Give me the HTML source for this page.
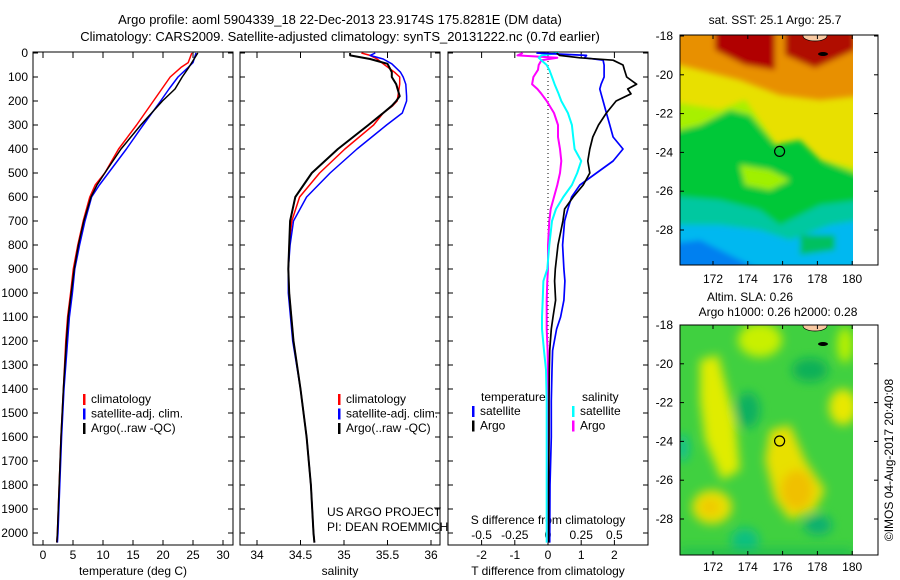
<!DOCTYPE html>
<html><head><meta charset="utf-8"><style>
body{margin:0;background:#fff;}
svg{display:block;font-family:"Liberation Sans",sans-serif;}
</style></head><body>
<svg id="chart" width="900" height="580" viewBox="0 0 900 580">
<defs>
<filter id="bl" x="-30%" y="-30%" width="160%" height="160%"><feGaussianBlur stdDeviation="5"/></filter>
<filter id="bl2" x="-20%" y="-20%" width="140%" height="140%"><feGaussianBlur stdDeviation="3"/></filter>
<clipPath id="c1"><rect x="680" y="35" width="173" height="230"/></clipPath>
<clipPath id="c2"><rect x="680" y="325" width="173" height="230"/></clipPath>
</defs>
<text x="340" y="24" font-size="13" text-anchor="middle">Argo profile: aoml 5904339_18 22-Dec-2013 23.9174S 175.8281E (DM data)</text>
<text x="340" y="41" font-size="13" text-anchor="middle">Climatology: CARS2009. Satellite-adjusted climatology: synTS_20131222.nc (0.7d earlier)</text>

<g>
<g clip-path="url(#c1)">
<rect x="680" y="35" width="173" height="230" fill="#e8e000"/>
<g filter="url(#bl2)">
<polygon points="660,20 870,20 870,95 820,100 780,95 740,80 700,70 660,60" fill="#e89000"/>
<polygon points="715,20 775,20 775,70 745,65 715,50" fill="#b00000"/>
<polygon points="785,20 855,20 855,50 815,68 785,55" fill="#b01000"/>
<polygon points="660,100 720,110 745,100 780,150 860,170 860,280 660,280" fill="#a8f000"/>
<polygon points="660,135 700,125 730,110 750,115 775,145 800,140 820,160 860,175 860,280 660,280" fill="#00c838"/>
<polygon points="740,165 770,170 790,180 770,190 745,185" fill="#a0f000"/>
<polygon points="660,195 720,200 760,210 780,225 820,205 860,200 860,280 660,280" fill="#00c8a0"/>
<polygon points="660,225 720,225 760,230 790,240 830,225 860,220 860,280 660,280" fill="#00b8f0"/>
<polygon points="660,245 700,240 730,255 760,270 660,280" fill="#0080f0"/>
<polygon points="800,235 835,235 835,250 800,255" fill="#00c060"/>
</g>
<ellipse cx="815" cy="36" rx="12" ry="5" fill="#f8c8a0" stroke="#000" stroke-width="0.7"/>
<ellipse cx="823" cy="54" rx="5" ry="2" fill="#000"/>
</g>
<rect x="680" y="35" width="198" height="230" fill="none" stroke="#000" stroke-width="1"/>
<circle cx="779.6" cy="151.4" r="5" fill="none" stroke="#000" stroke-width="1.2"/>
<text x="775" y="24" font-size="12" text-anchor="middle">sat. SST: 25.1 Argo: 25.7</text>
</g>

<g>
<g clip-path="url(#c2)">
<rect x="680" y="325" width="173" height="230" fill="#40d040"/>
<g filter="url(#bl)">
<polygon points="770,430 790,425 805,460 825,490 815,510 790,520 775,500 765,460" fill="#e8e000"/>
<ellipse cx="797" cy="490" rx="16" ry="20" fill="#f0c000"/>
<ellipse cx="712" cy="507" rx="20" ry="17" fill="#e8e000"/>
<ellipse cx="710" cy="507" rx="10" ry="8" fill="#f0c800"/>
<polygon points="700,360 718,355 735,420 740,470 722,480 705,440 700,400" fill="#e0ec00"/>
<ellipse cx="843" cy="407" rx="14" ry="18" fill="#e8e800"/>
<ellipse cx="760" cy="340" rx="22" ry="17" fill="#c8f000"/>
<ellipse cx="845" cy="345" rx="8" ry="18" fill="#b8f000"/>
<ellipse cx="748" cy="410" rx="12" ry="18" fill="#10b060"/>
<ellipse cx="810" cy="370" rx="18" ry="12" fill="#10b058"/>
<ellipse cx="745" cy="540" rx="14" ry="12" fill="#10c080"/>
<ellipse cx="818" cy="525" rx="14" ry="10" fill="#10b070"/>
<ellipse cx="683" cy="448" rx="6" ry="14" fill="#10c090"/>
<rect x="680" y="548" width="173" height="10" fill="#20c050"/>
</g>
<ellipse cx="815" cy="326" rx="12" ry="5" fill="#f8c8a0" stroke="#000" stroke-width="0.7"/>
<ellipse cx="823" cy="344" rx="5" ry="2" fill="#000"/>
</g>
<rect x="680" y="325" width="198" height="230" fill="none" stroke="#000" stroke-width="1"/>
<circle cx="779.6" cy="441" r="5" fill="none" stroke="#000" stroke-width="1.2"/>
<text x="750" y="301" font-size="12" text-anchor="middle">Altim. SLA: 0.26</text>
<text x="778" y="316" font-size="12" text-anchor="middle">Argo h1000: 0.26 h2000: 0.28</text>
</g>
<text transform="translate(893,460) rotate(-90)" font-size="12" text-anchor="middle">©IMOS 04-Aug-2017 20:40:08</text>

<text x="327" y="516" font-size="12">US ARGO PROJECT</text>
<text x="327" y="531" font-size="12">PI: DEAN ROEMMICH</text>
</svg>
<script>
const depthTicks=[0,100,200,300,400,500,600,700,800,900,1000,1100,1200,1300,1400,1500,1600,1700,1800,1900,2000];
const tDepth=[0,40,60,100,150,200,300,400,500,550,600,700,800,900,1000,1100,1200,1400,1600,1800,2000,2040];
const tClim=[24.8,24.2,23,21.2,19.8,18.4,15.6,12.6,10.3,8.7,7.8,6.7,5.8,5.05,4.6,4.1,3.8,3.4,3.0,2.7,2.4,2.3];
const tSat=[25.5,25,24.2,22.5,21,19.6,16.7,13.9,10.9,9.4,8.1,7.0,6.1,5.3,4.9,4.4,4.1,3.5,3.1,2.8,2.5,2.4];
const tArgo=[25.8,24.8,24.3,23.2,22,19.9,16.3,13.0,10.3,9.0,8.0,6.8,5.9,5.2,4.7,4.2,3.9,3.4,3.0,2.7,2.4,2.3];
const tTicks=[0,5,10,15,20,25,30];
const sDepth=[0,10,25,45,80,100,130,180,200,220,250,300,400,500,600,700,800,900,1000,1200,1400,1600,1800,2000,2040];
const sClim=[35.2,35.3,35.38,35.45,35.58,35.64,35.64,35.62,35.61,35.56,35.45,35.34,35.01,34.72,34.49,34.40,34.37,34.36,34.37,34.42,34.5,34.57,34.62,34.65,34.66];
const sSat=[35.36,35.3,35.45,35.55,35.65,35.68,35.71,35.72,35.72,35.7,35.67,35.49,35.15,34.84,34.57,34.42,34.38,34.36,34.36,34.41,34.5,34.57,34.62,34.65,34.66];
const sArgo=[35.07,35.07,35.3,35.5,35.55,35.55,35.6,35.64,35.6,35.55,35.45,35.28,34.93,34.63,34.44,34.38,34.37,34.36,34.37,34.42,34.5,34.57,34.62,34.65,34.66];
const sTicks=[34,34.5,35,35.5,36];
const sTickLabels=["34","34.5","35","35.5","36"];
const dDepth=[0,10,20,30,50,70,100,130,150,170,200,250,300,350,400,450,500,550,600,650,700,800,900,950,1030,1100,1150,1240,1320,1450,1600,1800,2040];
const dTSat=[-0.35,1.16,1.1,1.66,1.69,1.69,1.69,1.6,1.56,1.6,1.66,1.76,1.86,1.96,2.26,1.96,1.46,0.96,0.71,0.6,0.5,0.44,0.48,0.51,0.48,0.38,0.26,0.14,0.12,0.1,0.1,0.06,0.05];
const dTArgo=[0.26,0.35,0.96,1.96,2.26,2.3,2.37,2.67,2.4,2.5,2.05,1.76,1.52,1.35,1.26,1.2,1.26,1.06,0.76,0.5,0.45,0.3,0.22,0.2,0.23,0.15,0.1,0.05,0.04,0.03,0.03,0.02,0.02];
const dSArgo=[-0.19,-0.23,0.07,-0.05,-0.07,-0.075,-0.11,-0.12,-0.08,-0.05,-0.01,0.045,0.075,0.075,0.09,0.1,0.09,0.07,0.045,0.02,0.01,0.0,0.0,-0.005,-0.01,-0.01,-0.01,-0.003,0.0,0.0,0.0,0.0,0.0];
const dSSat=[0.08,-0.05,-0.07,-0.05,-0.01,0.01,0.03,0.05,0.065,0.08,0.1,0.15,0.18,0.19,0.2,0.25,0.22,0.18,0.115,0.06,0.03,0.01,-0.005,-0.035,-0.04,-0.045,-0.045,-0.03,-0.015,-0.01,-0.01,-0.01,-0.01];
const dTTicks=[-2,-1,0,1,2];
const dSTicks=[-0.5,-0.25,0,0.25,0.5];
const dSTickLabels=["-0.5","-0.25","0","0.25","0.5"];
const lonTicks=[172,174,176,178,180];
const latTicks=[-18,-20,-22,-24,-26,-28];

const svg=document.getElementById('chart');
const NS='http://www.w3.org/2000/svg';
function mk(tag,attrs,parent){const e=document.createElementNS(NS,tag);for(const k in attrs)e.setAttribute(k,attrs[k]);(parent||svg).appendChild(e);return e;}
const TOP=53,BOT=545;
function yD(d){return TOP+d*0.24;}

function panel(name,x0,x1,xs,ticks,labels,title,showY){
  const g=mk('g',{});
  
  
  const fr=mk('rect',{x:x0,y:TOP-1,width:x1-x0,height:BOT-TOP+1,fill:'none',stroke:'#000','stroke-width':1},g);
  
  
  depthTicks.forEach(d=>{
    const y=yD(d);
    mk('line',{x1:x0,x2:x0+5,y1:y,y2:y,stroke:'#000'},g);
    mk('line',{x1:x1-5,x2:x1,y1:y,y2:y,stroke:'#000'},g);
    if(showY){const t=mk('text',{x:x0-5,y:y+4,'font-size':12,'text-anchor':'end'},g);t.textContent=d;
      
      }
  });
  if(ticks){ticks.forEach((v,i)=>{const x=xs(v);
    mk('line',{x1:x,x2:x,y1:TOP-1,y2:TOP+5,stroke:'#000'},g);
    mk('line',{x1:x,x2:x,y1:BOT-5,y2:BOT,stroke:'#000'},g);
    const t=mk('text',{x:x,y:559,'font-size':12,'text-anchor':'middle'},g);t.textContent=labels[i];
    
    });}
  const tt=mk('text',{x:(x0+x1)/2,y:575,'font-size':12,'text-anchor':'middle'},g);tt.textContent=title;
  
  
  return g;
}
function line(g,xs,vals,depths,color,w,name){
  const pts=vals.map((v,i)=>xs(v).toFixed(1)+','+yD(depths[i]).toFixed(1)).join(' ');
  const p=mk('polyline',{points:pts,fill:'none',stroke:color,'stroke-width':w,'stroke-linejoin':'round'},g);
  
  
}
function legend(g,x,y,items){
  items.forEach((it,i)=>{
    mk('rect',{x:x,y:y+i*14.5-9,width:2.5,height:11,fill:it[1]},g);
    const t=mk('text',{x:x+8,y:y+i*14.5,'font-size':12},g);t.textContent=it[0];
    
    
  });
}
const xT=v=>43+v*6;
const g1=panel('temperature-panel',33,233,xT,tTicks,tTicks.map(String),'temperature (deg C)',true);
line(g1,xT,tClim,tDepth,'#f00',1.5,'temperature-climatology-line');
line(g1,xT,tSat,tDepth,'#00f',1.5,'temperature-satellite-line');
line(g1,xT,tArgo,tDepth,'#000',1.5,'temperature-argo-line');
legend(g1,83,403,[['climatology','#f00'],['satellite-adj. clim.','#00f'],['Argo(..raw -QC)','#000']]);
const xS=v=>257+(v-34)*87;
const g2=panel('salinity-panel',240,440,xS,sTicks,sTickLabels,'salinity',false);
line(g2,xS,sClim,sDepth,'#f00',1.5,'salinity-climatology-line');
line(g2,xS,sSat,sDepth,'#00f',1.5,'salinity-satellite-line');
line(g2,xS,sArgo,sDepth,'#000',2,'salinity-argo-line');
legend(g2,338,403,[['climatology','#f00'],['satellite-adj. clim.','#00f'],['Argo(..raw -QC)','#000']]);
const xDT=v=>548+v*33.2;
const xDS=v=>548+v*132.8;
const g3=panel('difference-panel',448,648,xDT,dTTicks,dTTicks.map(String),'T difference from climatology',false);
mk('line',{x1:548,x2:548,y1:TOP,y2:BOT,stroke:'#000','stroke-dasharray':'1,3'},g3);
dSTicks.forEach((v,i)=>{const t=mk('text',{x:xDS(v),y:539,'font-size':12,'text-anchor':'middle'},g3);t.textContent=dSTickLabels[i];
  
  });
const st=mk('text',{x:548,y:524,'font-size':12,'text-anchor':'middle'},g3);st.textContent='S difference from climatology';


line(g3,xDS,dSArgo,dDepth,'#f0f',2,'salinity-argo-diff-line');
line(g3,xDS,dSSat,dDepth,'#0ff',2,'salinity-satellite-diff-line');
line(g3,xDT,dTSat,dDepth,'#00f',1.7,'temperature-satellite-diff-line');
line(g3,xDT,dTArgo,dDepth,'#000',1.7,'temperature-argo-diff-line');
const lt=mk('text',{x:481,y:401,'font-size':12},g3);lt.textContent='temperature';


const ls=mk('text',{x:582,y:401,'font-size':12},g3);ls.textContent='salinity';


legend(g3,472,415,[['satellite','#00f'],['Argo','#000']]);
legend(g3,572,415,[['satellite','#0ff'],['Argo','#f0f']]);
function mapAxes(top,latTop,name,xlabY){
  const g=mk('g',{});
  
  
  const bottom=top+230;
  lonTicks.forEach(l=>{const x=713+(l-172)*17.4;
    mk('line',{x1:x,x2:x,y1:top,y2:top+4,stroke:'#000'},g);
    mk('line',{x1:x,x2:x,y1:bottom-4,y2:bottom,stroke:'#000'},g);
    const t=mk('text',{x:x,y:xlabY,'font-size':12,'text-anchor':'middle'},g);t.textContent=l;
    
    });
  latTicks.forEach(l=>{const y=latTop+(-18-l)*19.4;
    mk('line',{x1:680,x2:684,y1:y,y2:y,stroke:'#000'},g);
    mk('line',{x1:874,x2:878,y1:y,y2:y,stroke:'#000'},g);
    const t=mk('text',{x:673,y:y+4,'font-size':12,'text-anchor':'end'},g);t.textContent=l;
    
    });
}
mapAxes(35,36,'sst-map-axes',283);
mapAxes(325,325,'sla-map-axes',571);
</script>
</body></html>
